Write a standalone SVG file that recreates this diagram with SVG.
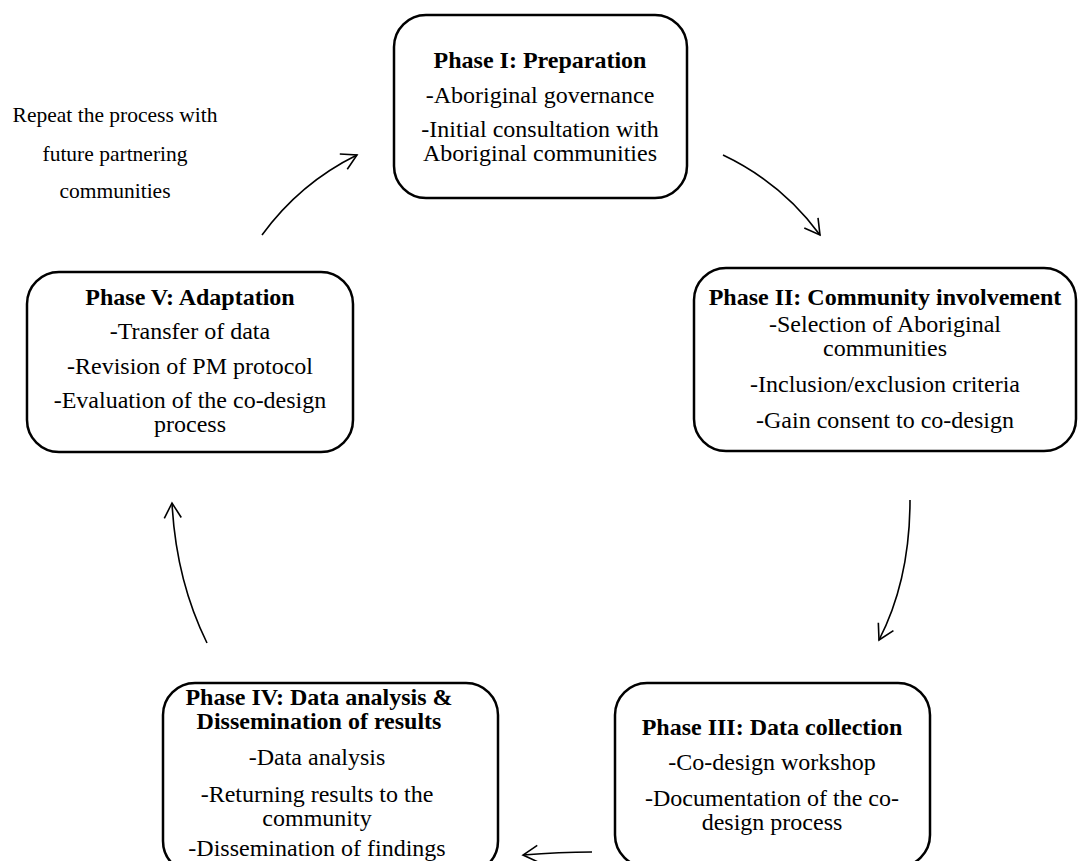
<svg xmlns="http://www.w3.org/2000/svg" width="1078" height="861" viewBox="0 0 1078 861">
<defs>
<style>
.box{fill:#fff;stroke:#000;stroke-width:2.5}
.t{font-family:"Liberation Serif","Times New Roman",serif;font-size:24px;fill:#000;text-anchor:middle}
.b{font-weight:bold}
.n{font-family:"Liberation Serif","Times New Roman",serif;font-size:21.5px;fill:#000;text-anchor:middle}
.c{fill:none;stroke:#000;stroke-width:1.6}
</style>
<marker id="ah" viewBox="-17 -10 19 20" markerWidth="19" markerHeight="20" refX="0" refY="0" orient="auto" markerUnits="userSpaceOnUse">
<path d="M-15,-8.5 L0,0 L-15,8.5" fill="none" stroke="#000" stroke-width="1.6"/>
</marker>
</defs>
<rect width="1078" height="861" fill="#fff"/>
<g id="connectors">
<path class="c" d="M262,235 Q300,183 357,155" marker-end="url(#ah)"/>
<path class="c" d="M723,155 Q782,183 820,235" marker-end="url(#ah)"/>
<path class="c" d="M910,500 Q910,580 879,640" marker-end="url(#ah)"/>
<path class="c" d="M592,852 Q560,852 523,855" marker-end="url(#ah)"/>
<path class="c" d="M207,643 Q176,580 172,503" marker-end="url(#ah)"/>
</g>
<g id="phase1">
<rect class="box" x="394" y="15" width="293" height="183" rx="32"/>
<text class="t b" x="540" y="68">Phase I: Preparation</text>
<text class="t" x="540" y="103">-Aboriginal governance</text>
<text class="t" x="540" y="137">-Initial consultation with</text>
<text class="t" x="540" y="161">Aboriginal communities</text>
</g>
<g id="phase2">
<rect class="box" x="694" y="268" width="382" height="183" rx="32"/>
<text class="t b" x="885" y="305">Phase II: Community involvement</text>
<text class="t" x="885" y="332">-Selection of Aboriginal</text>
<text class="t" x="885" y="356">communities</text>
<text class="t" x="885" y="392">-Inclusion/exclusion criteria</text>
<text class="t" x="885" y="428">-Gain consent to co-design</text>
</g>
<g id="phase3">
<rect class="box" x="615" y="683" width="315" height="184" rx="32"/>
<text class="t b" x="772" y="735">Phase III: Data collection</text>
<text class="t" x="772" y="770">-Co-design workshop</text>
<text class="t" x="772" y="806">-Documentation of the co-</text>
<text class="t" x="772" y="830">design process</text>
</g>
<g id="phase4">
<rect class="box" x="163" y="683" width="335" height="190" rx="32"/>
<text class="t b" x="319" y="705">Phase IV: Data analysis &amp;</text>
<text class="t b" x="319" y="729">Dissemination of results</text>
<text class="t" x="317" y="765">-Data analysis</text>
<text class="t" x="317" y="802">-Returning results to the</text>
<text class="t" x="317" y="826">community</text>
<text class="t" x="317" y="856">-Dissemination of findings</text>
</g>
<g id="phase5">
<rect class="box" x="27" y="272" width="326" height="180" rx="32"/>
<text class="t b" x="190" y="305">Phase V: Adaptation</text>
<text class="t" x="190" y="339">-Transfer of data</text>
<text class="t" x="190" y="374">-Revision of PM protocol</text>
<text class="t" x="190" y="408">-Evaluation of the co-design</text>
<text class="t" x="190" y="432">process</text>
</g>
<g id="note">
<text class="n" x="115" y="122">Repeat the process with</text>
<text class="n" x="115" y="161">future partnering</text>
<text class="n" x="115" y="198">communities</text>
</g>
</svg>
